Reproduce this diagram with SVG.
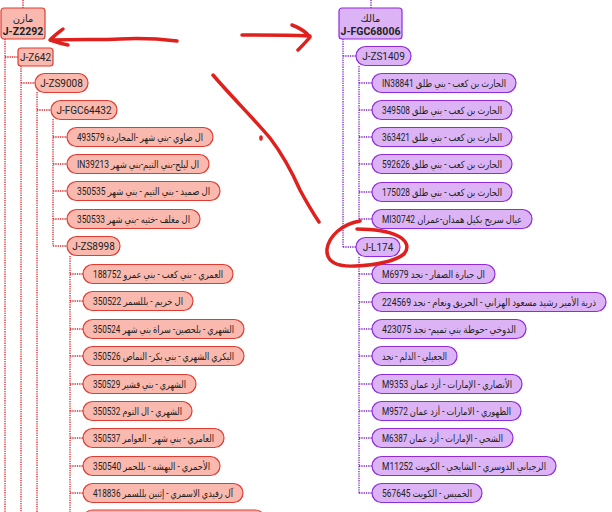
<svg xmlns="http://www.w3.org/2000/svg" width="612" height="512" viewBox="0 0 612 512">
<style>
text{font-family:Roboto,"Noto Sans","DejaVu Sans",sans-serif;font-size:10px;fill:#222;text-anchor:middle;dominant-baseline:central}
.b{font-weight:bold;font-size:10.5px}
.ar{direction:rtl}
.rn rect{fill:#f9b9ae;stroke:#e23b32;stroke-width:1.2}
.pn rect{fill:#dcb4f6;stroke:#8f2bdc;stroke-width:1.2}
.rl{stroke:#d8262a;stroke-width:1.3;stroke-dasharray:1.3 1;fill:none}
.pl{stroke:#7f22c9;stroke-width:1.3;stroke-dasharray:1.3 1;fill:none}
.ann{stroke:#e0201c;stroke-width:3.5;fill:none;stroke-linecap:round;stroke-linejoin:round}
</style>
<rect width="612" height="512" fill="#fff"/>
<g id="connectors">
<path class="rl" d="M23 0V8M5 39V512M5 57H18M21 66V512M21 83H35M37 92V512M37 110H51M53 119V246M53 137H67M53 164H67M53 191H67M53 219H67M53 246H67M70 256V512M70 274H83M70 301H83M70 329H83M70 356H83M70 384H83M70 411H83M70 438H83M70 466H83M70 493H83"/>
<path class="pl" d="M371 0V8M343 39V247M343 56H356M343 247H356M359 66V219M359 83H372M359 110H372M359 137H372M359 164H372M359 192H372M359 219H372M359 257V493M359 274H372M359 302H372M359 329H372M359 356H372M359 384H372M359 411H372M359 438H372M359 466H372M359 493H372"/>
</g>
<g id="n-Z2292" class="rn"><rect x="1" y="8" width="44" height="31" rx="3"/><text x="23" y="18">مازن</text><text class="b" x="23" y="31">J-Z2292</text></g>
<g id="n-Z642" class="rn"><rect x="18" y="48" width="35" height="18" rx="3"/><text x="35.5" y="57">J-Z642</text></g>
<g id="n-ZS9008" class="rn"><rect x="35" y="73.5" width="53" height="19" rx="9.5"/><text x="61.5" y="83">J-ZS9008</text></g>
<g id="n-FGC64432" class="rn"><rect x="51" y="100.5" width="66" height="19" rx="9.5"/><text x="84" y="110">J-FGC64432</text></g>
<g id="n-493579" class="rn"><rect x="67" y="127.5" width="146" height="19" rx="9.5"/><text class="ar" x="140" y="137" textLength="126" lengthAdjust="spacingAndGlyphs">ال ضاوي -بني شهر -المجاردة 493579</text></g>
<g id="n-IN39213" class="rn"><rect x="67" y="154.5" width="142" height="19" rx="9.5"/><text class="ar" x="138" y="164" textLength="122" lengthAdjust="spacingAndGlyphs">ال ليلح-بني التيم-بني شهر IN39213</text></g>
<g id="n-350535" class="rn"><rect x="67" y="181.5" width="153" height="19" rx="9.5"/><text class="ar" x="143.5" y="191" textLength="133" lengthAdjust="spacingAndGlyphs">ال صميد - بني التيم - بني شهر 350535</text></g>
<g id="n-350533" class="rn"><rect x="67" y="209.5" width="133" height="19" rx="9.5"/><text class="ar" x="133.5" y="219" textLength="113" lengthAdjust="spacingAndGlyphs">ال مغلف -خثيه -بني شهر 350533</text></g>
<g id="n-ZS8998" class="rn"><rect x="67" y="236.5" width="53" height="19" rx="9.5"/><text x="93.5" y="246">J-ZS8998</text></g>
<g id="n-188752" class="rn"><rect x="83" y="264.5" width="150" height="19" rx="9.5"/><text class="ar" x="158" y="274" textLength="130" lengthAdjust="spacingAndGlyphs">العمري - بني كعب - بني عمرو 188752</text></g>
<g id="n-350522" class="rn"><rect x="83" y="291.5" width="110" height="19" rx="9.5"/><text class="ar" x="138" y="301" textLength="90" lengthAdjust="spacingAndGlyphs">ال خريم - بللسمر 350522</text></g>
<g id="n-350524" class="rn"><rect x="83" y="319.5" width="161" height="19" rx="9.5"/><text class="ar" x="163.5" y="329" textLength="141" lengthAdjust="spacingAndGlyphs">الشهري - بلحصين- سراة بني شهر 350524</text></g>
<g id="n-350526" class="rn"><rect x="83" y="346.5" width="161" height="19" rx="9.5"/><text class="ar" x="163.5" y="356" textLength="141" lengthAdjust="spacingAndGlyphs">البكري الشهري - بني بكر- النماص 350526</text></g>
<g id="n-350529" class="rn"><rect x="83" y="374.5" width="113" height="19" rx="9.5"/><text class="ar" x="139.5" y="384" textLength="93" lengthAdjust="spacingAndGlyphs">الشهري - بني قشير 350529</text></g>
<g id="n-350532" class="rn"><rect x="83" y="401.5" width="109" height="19" rx="9.5"/><text class="ar" x="137.5" y="411" textLength="89" lengthAdjust="spacingAndGlyphs">الشهري - ال التوم 350532</text></g>
<g id="n-350537" class="rn"><rect x="83" y="428.5" width="141" height="19" rx="9.5"/><text class="ar" x="153.5" y="438" textLength="121" lengthAdjust="spacingAndGlyphs">العامري - بني شهر - العوامر 350537</text></g>
<g id="n-350540" class="rn"><rect x="83" y="456.5" width="137" height="19" rx="9.5"/><text class="ar" x="151.5" y="466" textLength="117" lengthAdjust="spacingAndGlyphs">الأحمري - البهشه - بللحمر  350540</text></g>
<g id="n-418836" class="rn"><rect x="83" y="483.5" width="160" height="19" rx="9.5"/><text class="ar" x="163" y="493" textLength="140" lengthAdjust="spacingAndGlyphs">آل رفيدي الاسمري - إثنين بللسمر 418836</text></g>
<g id="n-cut" class="rn"><rect x="83" y="510" width="182" height="19" rx="9.5"/></g>
<g id="n-FGC68006" class="pn"><rect x="339" y="8" width="63" height="31" rx="3"/><text x="370.5" y="18">مالك</text><text class="b" x="370.5" y="31">J-FGC68006</text></g>
<g id="n-ZS1409" class="pn"><rect x="356" y="46.5" width="55" height="19" rx="9.5"/><text x="383.5" y="56">J-ZS1409</text></g>
<g id="n-IN38841" class="pn"><rect x="372" y="73.5" width="144" height="19" rx="9.5"/><text class="ar" x="444" y="83" textLength="124" lengthAdjust="spacingAndGlyphs">الحارث بن كعب - بني طلق IN38841</text></g>
<g id="n-349508" class="pn"><rect x="372" y="100.5" width="140" height="19" rx="9.5"/><text class="ar" x="442" y="110" textLength="120" lengthAdjust="spacingAndGlyphs">الحارث بن كعب - بني طلق 349508</text></g>
<g id="n-363421" class="pn"><rect x="372" y="127.5" width="140" height="19" rx="9.5"/><text class="ar" x="442" y="137" textLength="120" lengthAdjust="spacingAndGlyphs">الحارث بن كعب - بني طلق 363421</text></g>
<g id="n-592626" class="pn"><rect x="372" y="154.5" width="140" height="19" rx="9.5"/><text class="ar" x="442" y="164" textLength="120" lengthAdjust="spacingAndGlyphs">الحارث بن كعب - بني طلق 592626</text></g>
<g id="n-175028" class="pn"><rect x="372" y="182.5" width="140" height="19" rx="9.5"/><text class="ar" x="442" y="192" textLength="120" lengthAdjust="spacingAndGlyphs">الحارث بن كعب - بني طلق 175028</text></g>
<g id="n-MI30742" class="pn"><rect x="372" y="209.5" width="160" height="19" rx="9.5"/><text class="ar" x="452" y="219" textLength="140" lengthAdjust="spacingAndGlyphs">عيال سريح بكيل همدان-عمران MI30742</text></g>
<g id="n-L174" class="pn"><rect x="356" y="237.5" width="44" height="19" rx="9.5"/><text x="378" y="247">J-L174</text></g>
<g id="n-M6979" class="pn"><rect x="372" y="264.5" width="123" height="19" rx="9.5"/><text class="ar" x="433.5" y="274" textLength="103" lengthAdjust="spacingAndGlyphs">ال جبارة الصفار  - نجد M6979</text></g>
<g id="n-224569" class="pn"><rect x="372" y="292.5" width="234" height="19" rx="9.5"/><text class="ar" x="596" y="302" style="text-anchor:start" textLength="214" lengthAdjust="spacingAndGlyphs">ذرية الأمير رشيد مسعود الهزاني - الحريق ونعام - نجد  224569</text></g>
<g id="n-423075" class="pn"><rect x="372" y="319.5" width="154" height="19" rx="9.5"/><text class="ar" x="449" y="329" textLength="134" lengthAdjust="spacingAndGlyphs">الدوخي -حوطة بني تميم- نجد 423075</text></g>
<g id="n-jaili" class="pn"><rect x="372" y="346.5" width="85" height="19" rx="9.5"/><text class="ar" x="414.5" y="356" textLength="65" lengthAdjust="spacingAndGlyphs">الجعيلي - الدلم - نجد</text></g>
<g id="n-M9353" class="pn"><rect x="372" y="374.5" width="150" height="19" rx="9.5"/><text class="ar" x="447" y="384" textLength="130" lengthAdjust="spacingAndGlyphs">الأنصاري - الإمارات - أزد عمان  M9353</text></g>
<g id="n-M9572" class="pn"><rect x="372" y="401.5" width="149" height="19" rx="9.5"/><text class="ar" x="446.5" y="411" textLength="129" lengthAdjust="spacingAndGlyphs">الظهوري - الامارات - أزد عمان  M9572</text></g>
<g id="n-M6387" class="pn"><rect x="372" y="428.5" width="141" height="19" rx="9.5"/><text class="ar" x="442.5" y="438" textLength="121" lengthAdjust="spacingAndGlyphs">الشحي - الإمارات - أزد عمان M6387</text></g>
<g id="n-M11252" class="pn"><rect x="372" y="456.5" width="184" height="19" rx="9.5"/><text class="ar" x="464" y="466" textLength="164" lengthAdjust="spacingAndGlyphs">الرجباني الدوسري - الشايجي - الكويت M11252</text></g>
<g id="n-567645" class="pn"><rect x="372" y="483.5" width="110" height="19" rx="9.5"/><text class="ar" x="427" y="493" textLength="90" lengthAdjust="spacingAndGlyphs">الخميس - الكويت 567645</text></g>
<g id="annotations">
<path class="ann" d="M177 41C160 39 140 38 120 39C100 40 80 39 52 40M63 29C58 33 54 36 50 40C56 42 62 44 68 45"/>
<path class="ann" d="M242 35C262 35 285 35 310 36M292 25C300 28 306 32 310 37C306 42 302 46 298 50"/>
<path class="ann" d="M213 75C230 95 255 120 270 138C283 155 292 172 300 190C307 203 313 213 319 222"/>
<path class="ann" d="M261 137L261 139"/>
<path class="ann" d="M360 221C342 224 329 236 327 249C326 262 337 267 355 266C375 265 395 261 404 254C410 247 406 240 398 236C388 231 372 229 357 229"/>
</g>
</svg>
